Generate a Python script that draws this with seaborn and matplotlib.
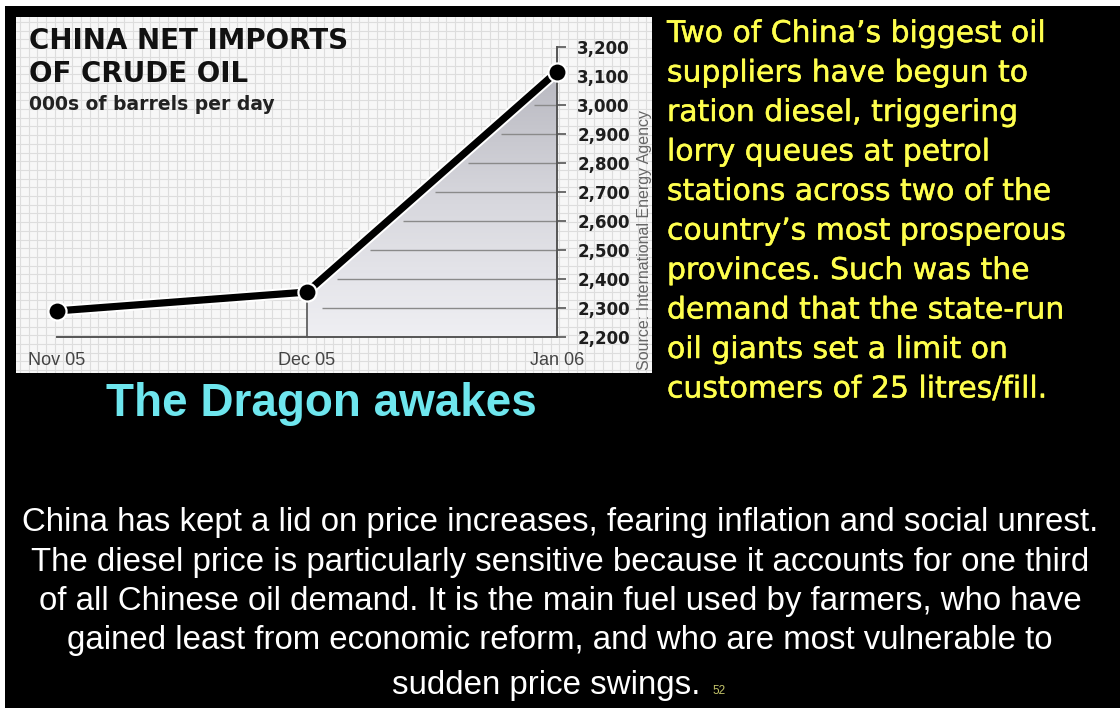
import numpy as np
import pandas as pd
import matplotlib
matplotlib.use("Agg")
import matplotlib.pyplot as plt
import matplotlib.patheffects as pe
from matplotlib.patches import Rectangle, Polygon
from matplotlib.colors import LinearSegmentedColormap
import seaborn as sns

# --- data -------------------------------------------------------------
months = ["Nov 05", "Dec 05", "Jan 06"]
imports_kbd = [2290, 2355, 3115]          # China net crude imports, 000s barrels/day
y_ticks = list(range(2200, 3300, 100))
y_tick_labels = [f"{v:,}" for v in y_ticks]

chart_title = ["CHINA NET IMPORTS", "OF CRUDE OIL"]
chart_unit = "000s of barrels per day"
chart_source = "Source: International Energy Agency"
headline = "The Dragon awakes"
side_lines = [
    "Two of China\u2019s biggest oil",
    "suppliers have begun to",
    "ration diesel, triggering",
    "lorry queues at petrol",
    "stations across two of the",
    "country\u2019s most prosperous",
    "provinces. Such was the",
    "demand that the state-run",
    "oil giants set a limit on",
    "customers of 25 litres/fill.",
]
body_lines = [
    "China has kept a lid on price increases, fearing inflation and social unrest.",
    "The diesel price is particularly sensitive because it accounts for one third",
    "of all Chinese oil demand. It is the main fuel used by farmers, who have",
    "gained least from economic reform, and who are most vulnerable to",
    "sudden price swings.",
]
slide_number = "52"

df = pd.DataFrame({"idx": range(len(months)), "month": months, "kbd": imports_kbd})

# --- figure -----------------------------------------------------------
sns.set_theme(style="white")
plt.rcParams["font.family"] = ["DejaVu Sans"]

W, H = 1120, 708
fig = plt.figure(figsize=(W / 100, H / 100), dpi=100, facecolor="black")


def fx(px):
    return px / W


def fy(py):
    return 1 - py / H


# thin white margins on the top and left edges of the slide
fig.patches.append(Rectangle((0, fy(6)), 1, 6 / H, transform=fig.transFigure,
                             facecolor="white", edgecolor="none", zorder=0))
fig.patches.append(Rectangle((0, 0), 5 / W, 1, transform=fig.transFigure,
                             facecolor="white", edgecolor="none", zorder=0))

# chart panel: graph-paper background
px0, py0, px1, py1 = 16, 17, 652, 373
panel_rect = [fx(px0), fy(py1), (px1 - px0) / W, (py1 - py0) / H]
bg = fig.add_axes(panel_rect)
bg.set_facecolor("#f7f7f7")
bg.set_xlim(0, px1 - px0)
bg.set_ylim(0, py1 - py0)
bg.set_xticks(np.arange(4, px1 - px0, 8.7))
bg.set_yticks(np.arange(3, py1 - py0, 8.7))
bg.grid(True, color="#dddddd", linewidth=0.8)
bg.tick_params(length=0, labelbottom=False, labelleft=False)
for s in bg.spines.values():
    s.set_visible(False)

# data axes on top of the paper
ax = fig.add_axes(panel_rect)
ax.set_facecolor("none")
XLIM = (-0.164, 2.38)
YLIM = (2075.9, 3303.4)

axis_col = "#555555"
# right value axis placed at the last month
ax.spines["right"].set_position(("data", len(months) - 1))
ax.spines["right"].set_bounds(y_ticks[0], y_ticks[-1])
ax.spines["right"].set_color(axis_col)
ax.spines["right"].set_linewidth(1.4)
ax.spines["bottom"].set_position(("data", y_ticks[0]))
ax.spines["bottom"].set_bounds(0, len(months) - 1)
ax.spines["bottom"].set_color(axis_col)
ax.spines["bottom"].set_linewidth(1.4)
ax.spines["left"].set_visible(False)
ax.spines["top"].set_visible(False)

# shaded wedge under the steep rise, darker towards the top
x_a, x_b = df["idx"].iloc[1], df["idx"].iloc[2]
v_a, v_b = df["kbd"].iloc[1], df["kbd"].iloc[2]
wedge = Polygon([(x_a, v_a), (x_b, v_b), (x_b, y_ticks[0]), (x_a, y_ticks[0])],
                closed=True, facecolor="none", edgecolor="none",
                transform=ax.transData)
ax.add_patch(wedge)
shade = LinearSegmentedColormap.from_list("shade", ["#efeff3", "#d8d8de", "#b8b8c0"])
grad = np.linspace(0, 1, 256).reshape(-1, 1)
img = ax.imshow(grad, extent=[x_a, x_b, y_ticks[0], v_b], origin="lower",
                cmap=shade, aspect="auto", zorder=1, interpolation="bilinear")
img.set_clip_path(wedge)

# reference lines inside the wedge
for lvl in y_ticks[1:-2]:
    start = np.interp(lvl, [v_a, v_b], [x_a, x_b]) if lvl > v_a else x_a
    ax.hlines(lvl, start + 0.06, x_b, color="#8a8a8a", linewidth=1.0, zorder=2)

# drop line from the middle month
ax.vlines(x_a, y_ticks[0], v_a, color=axis_col, linewidth=1.2, zorder=2)

# the series
sns.lineplot(data=df, x="idx", y="kbd", ax=ax, color="black", linewidth=5.2,
             zorder=4, legend=False,
             path_effects=[pe.Stroke(linewidth=8, foreground="white"), pe.Normal()])
sns.scatterplot(data=df, x="idx", y="kbd", ax=ax, color="black", s=170,
                edgecolor="white", linewidth=1.6, zorder=5, legend=False)

ax.set_xlim(*XLIM)
ax.set_ylim(*YLIM)
ax.yaxis.tick_right()
ax.set_yticks(y_ticks)
ax.set_yticklabels(y_tick_labels, fontsize=12, fontweight="bold", color="#1e1e1e")
ax.tick_params(axis="y", direction="out", length=6.5, width=1.2, color=axis_col, pad=8)
ax.set_xticks(df["idx"])
ax.set_xticklabels(months, fontsize=13, color="#444444", family="Liberation Sans")
ax.tick_params(axis="x", direction="out", length=4.5, width=1.2, color=axis_col, pad=6)
ax.set_xlabel("")
ax.set_ylabel("")

# chart heading and source
fig.text(fx(29), fy(49), chart_title[0], fontsize=20, fontweight="bold",
         color="#111111", va="baseline", ha="left")
fig.text(fx(29), fy(82), chart_title[1], fontsize=20, fontweight="bold",
         color="#111111", va="baseline", ha="left")
fig.text(fx(29), fy(110), chart_unit, fontsize=13.5, fontweight="bold",
         color="#222222", va="baseline", ha="left")
fig.text(fx(645), fy(240), chart_source, rotation=90, fontsize=11.5,
         color="#666666", ha="center", va="center", family="Liberation Sans")

# slide headline
fig.text(fx(321), fy(416), headline, fontsize=33, fontweight="bold",
         color="#6ee6ee", ha="center", va="baseline", family="Liberation Sans")

# yellow side note
yellow = "#ffff4d"
for i, line in enumerate(side_lines):
    fig.text(fx(667), fy(42 + 39.5 * i), line, fontsize=21.5, color=yellow,
             ha="left", va="baseline",
             path_effects=[pe.withStroke(linewidth=0.35, foreground=yellow)])

# white body paragraph
for i, line in enumerate(body_lines[:-1]):
    fig.text(fx(560), fy(531 + 39.5 * i), line, fontsize=23.8, color="white",
             ha="center", va="baseline", family="Liberation Sans")
fig.text(fx(546), fy(694), body_lines[-1], fontsize=23.8, color="white",
         ha="center", va="baseline", family="Liberation Sans")
fig.text(fx(712), fy(694), slide_number, fontsize=8.5, color="#c4c46a",
         ha="left", va="baseline", family="Liberation Sans")

fig.savefig("out.png", dpi=100, facecolor="black")
